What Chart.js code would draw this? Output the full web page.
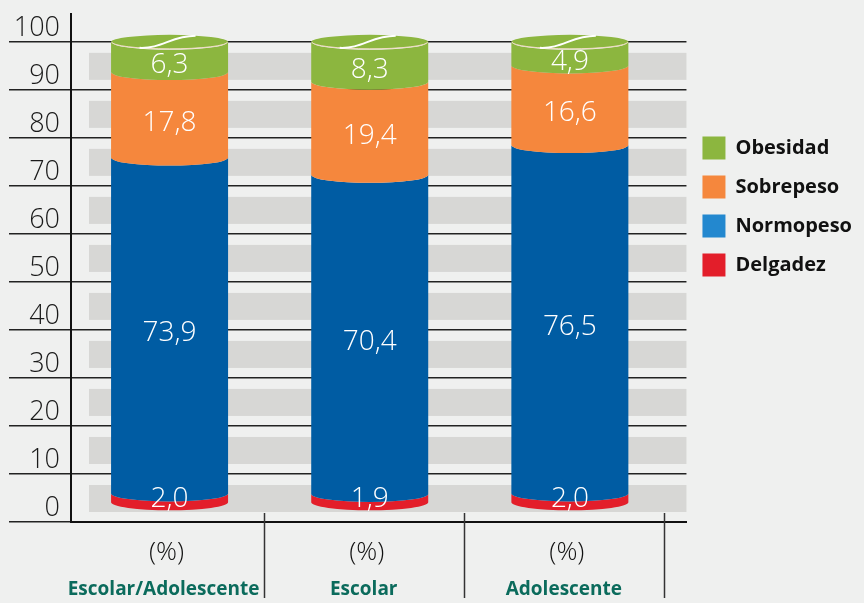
<!DOCTYPE html>
<html>
<head>
<meta charset="utf-8">
<script src="https://cdn.jsdelivr.net/npm/chart.js@4.4.1/dist/chart.umd.min.js"></script>
<style>
  html, body { margin:0; padding:0; background:#eff0ef; }
  #wrap { width:864px; height:603px; }
</style>
</head>
<body>
<div id="wrap"><canvas id="chart"></canvas></div>
<script>
const categories = ['Escolar/Adolescente', 'Escolar', 'Adolescente'];
const unitLabel = '(%)';
const seriesNames = ['Delgadez', 'Normopeso', 'Sobrepeso', 'Obesidad'];
const delgadez  = [2.0, 1.9, 2.0];
const normopeso = [73.9, 70.4, 76.5];
const sobrepeso = [17.8, 19.4, 16.6];
const obesidad  = [6.3, 8.3, 4.9];
const yTicks = [0, 10, 20, 30, 40, 50, 60, 70, 80, 90, 100];

const barColors    = ['#e31e2a', '#005ca3', '#f5873d', '#8cb63f'];
const legendColors = ['#e31e2a', '#2388cf', '#f5873d', '#8cb63f'];
const RY = 8;      // half height of the cylinder ellipses
const LIFT = 19;   // cylinder bottom sits above the axis line
const numFont = "'Open Sans', sans-serif";

const series = [delgadez, normopeso, sobrepeso, obesidad];

const bg = {
  id: 'bg',
  beforeDraw(chart) {
    const c = chart.ctx;
    c.save();
    c.fillStyle = '#eff0ef';
    c.fillRect(0, 0, chart.width, chart.height);
    c.restore();
  }
};

const bands = {
  id: 'bands',
  beforeDatasetsDraw(chart) {
    const c = chart.ctx, y = chart.scales.y, a = chart.chartArea;
    c.save();
    c.fillStyle = '#d7d7d5';
    for (let k = 0; k < yTicks.length - 1; k++) {
      const top = y.getPixelForValue(yTicks[k + 1]) + 11;
      const bot = y.getPixelForValue(yTicks[k]) - 10;
      c.fillRect(a.left + 18, top, a.right - a.left - 18, bot - top);
    }
    c.restore();
  }
};

const cylinders = {
  id: 'cylinders',
  beforeDatasetDraw() { return false; },
  afterDatasetsDraw(chart) {
    const c = chart.ctx;
    const labels = [];
    c.save();
    for (let i = 0; i < categories.length; i++) {
      let prevTop = null, cap = null;
      series.forEach((s, k) => {
        const el = chart.getDatasetMeta(k).data[i];
        const rx = el.width / 2, cx = el.x, L = cx - rx, R = cx + rx;
        const b = prevTop === null ? el.base - LIFT : prevTop;
        const t = k === 0 ? el.y - LIFT : el.y;
        c.beginPath();
        c.moveTo(L, t);
        c.ellipse(cx, t, rx, RY, 0, Math.PI, 0, true);
        c.lineTo(R, b);
        c.ellipse(cx, b, rx, RY, 0, 0, Math.PI, false);
        c.closePath();
        c.fillStyle = barColors[k];
        c.fill();
        prevTop = t;
        cap = {cx, rx, t};
        labels.push({x: cx, y: Math.min((t + b) / 2 + RY, b - 3), v: s[i]});
      });
      // top cap
      c.beginPath();
      c.ellipse(cap.cx, cap.t, cap.rx, RY - 1, 0, 0, Math.PI * 2);
      c.fillStyle = barColors[3];
      c.fill();
      c.beginPath();
      c.ellipse(cap.cx, cap.t, cap.rx - 0.5, RY - 1, 0, 0, Math.PI, false);
      c.strokeStyle = '#f1dcc6';
      c.lineWidth = 1;
      c.stroke();
      c.beginPath();
      c.moveTo(cap.cx - 30, cap.t + 6);
      c.bezierCurveTo(cap.cx - 8, cap.t + 7, cap.cx + 2, cap.t - 6, cap.cx + 26, cap.t - 6);
      c.strokeStyle = '#ffffff';
      c.lineWidth = 2;
      c.stroke();
    }
    c.fillStyle = '#ffffff';
    c.font = '300 28px ' + numFont;
    c.textAlign = 'center';
    c.textBaseline = 'middle';
    labels.forEach(l => c.fillText(l.v.toFixed(1).replace('.', ','), l.x, l.y));
    c.restore();
  }
};

const separators = {
  id: 'separators',
  afterDraw(chart) {
    const c = chart.ctx, x = chart.scales.x, a = chart.chartArea;
    c.save();
    c.strokeStyle = '#333';
    c.lineWidth = 1.5;
    categories.forEach((_, i) => {
      const px = Math.round(x.getPixelForValue(i + 1.47)) + 0.5;
      c.beginPath();
      c.moveTo(px, a.bottom - 9);
      c.lineTo(px, chart.height - 5);
      c.stroke();
    });
    c.restore();
  }
};

const catTicks = s => { s.ticks = categories.map((_, i) => ({value: i + 1})); };

new Chart(document.getElementById('chart'), {
  type: 'bar',
  data: {
    datasets: series.map((s, k) => ({
      label: seriesNames[k],
      data: s.map((v, i) => ({x: i + 1, y: v})),
      backgroundColor: legendColors[k],
      borderWidth: 0,
      barThickness: 117
    }))
  },
  options: {
    responsive: true,
    maintainAspectRatio: false,
    animation: false,
    layout: { padding: { left: 9, top: 14, right: 2, bottom: 2 } },
    plugins: {
      tooltip: { enabled: false },
      legend: {
        position: 'right',
        align: 'start',
        reverse: true,
        title: { display: true, text: ' ', font: { size: 10 }, padding: { top: 94.5, bottom: 0 } },
        labels: {
          boxWidth: 23, boxHeight: 23, padding: 16, color: '#111',
          font: { family: numFont, size: 20, weight: 'bold' }
        }
      }
    },
    scales: {
      x: {
        type: 'linear', stacked: true, offset: false, min: 0.5075, max: 3.5825, weight: 0,
        afterBuildTicks: catTicks,
        afterFit: s => { s.height = 46; },
        grid: { display: false, drawTicks: false },
        border: { display: true, color: '#111', width: 2 },
        ticks: { callback: () => unitLabel, autoSkip: false, maxRotation: 0, padding: 15, labelOffset: -3,
                 color: '#111', font: { family: numFont, size: 26, weight: '300' } }
      },
      x2: {
        type: 'linear', position: 'bottom', offset: false, min: 0.5075, max: 3.5825, weight: 1,
        afterBuildTicks: catTicks,
        afterFit: s => { s.height = 33; },
        grid: { display: false, drawTicks: false },
        border: { display: false },
        ticks: { callback: (v, i) => categories[i], autoSkip: false, maxRotation: 0, padding: 10, labelOffset: -6,
                 color: '#0b6b5c', font: { family: numFont, size: 19, weight: 'bold' } }
      },
      y: {
        stacked: true, min: 0, max: 105.8,
        afterBuildTicks: s => { s.ticks = yTicks.map(v => ({value: v})); },
        afterFit: s => { s.width = 62; },
        grid: { color: '#222', lineWidth: 1.5, tickLength: 62, drawTicks: true },
        border: { display: true, color: '#111', width: 2 },
        ticks: { padding: -51, labelOffset: -14, color: '#1a1a1a',
                 font: { family: numFont, size: 27, weight: '300' } }
      }
    }
  },
  plugins: [bg, bands, cylinders, separators]
});
</script>
</body>
</html>
